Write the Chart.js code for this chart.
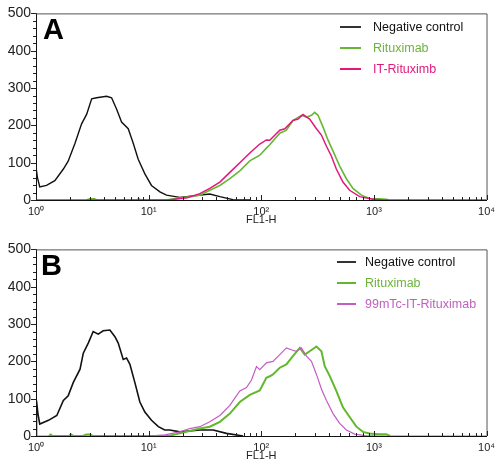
<!DOCTYPE html>
<html lang="en">
<head>
<meta charset="UTF-8">
<title>FL1-H histograms</title>
<script src="https://cdn.jsdelivr.net/npm/chart.js@4"></script>
<style>
  body { margin: 0; background: #fff; font-family: 'Liberation Sans', Arial, sans-serif; }
  .panel { position: relative; width: 500px; height: 236px; }
  .panel canvas { position: absolute; left: 0; top: 0; }
  .letter { position: absolute; top: 15px; font-size: 29px; font-weight: bold; line-height: 1; color: #000; }
  .legend { position: absolute; font-size: 12.5px; }
  .legend div { display: flex; align-items: center; height: 21px; white-space: nowrap; }
  .legend .swatch { display: inline-block; height: 0; border-top: 2px solid; }
</style>
</head>
<body>
<div class="panel">
  <canvas id="chartA" width="500" height="236"></canvas>
  <div class="letter" style="left:43px">A</div>
  <div class="legend" id="legendA" style="left:340px; top:16px"></div>
</div>
<div class="panel">
  <canvas id="chartB" width="500" height="236"></canvas>
  <div class="letter" style="left:41px">B</div>
  <div class="legend" id="legendB" style="left:337px; top:15px"></div>
</div>
<script>
// axis ticks
const xDecades = [1, 10, 100, 1000, 10000];
const xTickLabels = ['10⁰', '10¹', '10²', '10³', '10⁴'];
const yTicks = [0, 100, 200, 300, 400, 500];

// panel A
const negA_x = [1, 1, 1.03, 1.08, 1.24, 1.47, 1.75, 1.93, 2.22, 2.54, 2.82, 3.12, 3.45, 4.24, 4.69, 5.2, 5.75, 6.59, 7.3, 8.08, 9.26, 10.6, 12.6, 14.4, 18.9, 24.8, 34.9, 42.9, 56, 80];
const negA_y = [0, 88, 60, 35, 39, 52, 83, 104, 152, 204, 230, 271, 274, 278, 274, 243, 209, 191, 152, 109, 70, 39, 22, 13, 7, 11, 16, 9, 1, 0];
const ritA_x = [2.8, 3.0, 3.3, 3.5, 7.8, 8.2, 8.6, 14, 18.9, 28.5, 34.9, 42.9, 52.6, 64.5, 79.1, 97, 111, 119, 146, 167, 191, 227, 252, 279, 298, 319, 353, 391, 434, 497, 570, 652, 774, 916, 1100, 1290, 1350];
const ritA_y = [0, 3, 3, 0, 0, 3, 0, 0, 5, 13, 26, 39, 57, 78, 105, 120, 139, 148, 179, 187, 213, 227, 222, 227, 235, 227, 196, 161, 131, 91, 57, 31, 13, 4, 3, 2, 0];
const itA_x = [1, 15, 22, 28.5, 34.9, 42.9, 52.6, 64.5, 79.1, 97, 111, 119, 146, 162, 191, 212, 235, 269, 309, 342, 379, 419, 464, 531, 609, 748, 981, 1200, 10000];
const itA_y = [0, 0, 6, 17, 31, 48, 74, 100, 126, 150, 161, 160, 187, 191, 213, 217, 229, 217, 191, 174, 144, 118, 83, 48, 26, 9, 2, 0, 0];

// panel B
const negB_x = [1, 1.01, 1.04, 1.08, 1.29, 1.53, 1.75, 1.93, 2.14, 2.46, 2.63, 2.91, 3.22, 3.57, 3.95, 4.53, 5.02, 5.37, 5.95, 6.37, 6.82, 7.55, 8.36, 9.26, 10.6, 12.2, 13.9, 15.4, 18.9, 28.5, 37.4, 49.1, 69];
const negB_y = [0, 95, 60, 32, 42, 55, 95, 108, 143, 179, 222, 249, 280, 273, 282, 284, 266, 249, 205, 209, 192, 143, 91, 64, 42, 25, 16, 16, 11, 16, 16, 7, 0];
const ritB_x = [1.3, 1.35, 1.4, 1.95, 2.05, 2.15, 2.6, 2.8, 3.0, 3.2, 15, 18.9, 28.5, 34.9, 42.9, 52.6, 64.5, 79.1, 97, 111, 119, 127, 146, 167, 191, 220, 243, 269, 309, 342, 366, 405, 464, 531, 609, 699, 800, 916, 1100, 1290, 1390];
const ritB_y = [0, 4, 0, 0, 4, 0, 0, 4, 4, 0, 0, 7, 20, 25, 38, 60, 91, 110, 122, 156, 160, 165, 183, 192, 214, 236, 218, 227, 240, 227, 187, 161, 121, 77, 51, 25, 11, 7, 5, 5, 0];
const itB_x = [1, 10, 14, 18.9, 23.2, 28.5, 34.9, 42.9, 52.6, 64.5, 73.9, 81.9, 90.7, 97, 111, 127, 146, 167, 185, 205, 227, 252, 279, 309, 342, 379, 434, 497, 570, 675, 828, 1100, 10000];
const itB_y = [0, 0, 3, 11, 20, 25, 38, 55, 82, 121, 130, 150, 186, 178, 196, 200, 218, 236, 231, 227, 236, 214, 200, 165, 126, 95, 60, 34, 16, 5, 1, 0, 0];

const labelsA = ['Negative control', 'Rituximab', 'IT-Rituximb'];
const labelsB = ['Negative control', 'Rituximab', '99mTc-IT-Rituximab'];
const lineColorsA = ['#111111', '#66b832', '#e3177c'];
const lineColorsB = ['#111111', '#62b82c', '#c35cc4'];
const textColorsA = ['#111111', '#6cb33c', '#e0197d'];
const textColorsB = ['#111111', '#6cb33c', '#c060c0'];

function pts(xs, ys) {
  return xs.map((x, i) => ({ x: x, y: ys[i] }));
}

function isDecade(v) {
  const l = Math.log10(v);
  return Math.abs(l - Math.round(l)) < 1e-9;
}

// box round the plot and inward/outward tick marks
const frameTicks = {
  id: 'frameTicks',
  afterDraw(chart) {
    const { ctx, chartArea: a, scales: { x, y } } = chart;
    ctx.save();
    ctx.lineWidth = 1;
    ctx.strokeStyle = '#555';
    ctx.beginPath();
    ctx.moveTo(a.left, a.top + 0.5);
    ctx.lineTo(a.right + 0.5, a.top + 0.5);
    ctx.lineTo(a.right + 0.5, a.bottom);
    ctx.stroke();
    ctx.strokeStyle = '#222';
    ctx.beginPath();
    x.ticks.forEach(t => {
      const px = Math.round(x.getPixelForValue(t.value)) + 0.5;
      const len = isDecade(t.value) ? 5 : 3;
      ctx.moveTo(px, a.bottom);
      ctx.lineTo(px, a.bottom - len);
    });
    y.ticks.forEach(t => {
      const py = Math.round(y.getPixelForValue(t.value)) + 0.5;
      const len = yTicks.includes(t.value) ? 5 : 3;
      ctx.moveTo(a.left, py);
      ctx.lineTo(a.left - len, py);
    });
    ctx.stroke();
    ctx.restore();
  }
};

function makePanel(id, legendId, series, labels, lineColors, textColors, widths) {
  const datasets = series.map((s, i) => ({
    label: labels[i],
    data: pts(s[0], s[1]),
    showLine: true,
    borderColor: lineColors[i],
    borderWidth: widths[i],
    pointRadius: 0,
    order: 2 - i
  }));

  new Chart(document.getElementById(id), {
    type: 'scatter',
    data: { datasets: datasets },
    options: {
      responsive: false,
      animation: false,
      layout: { padding: { top: 8, right: 12, left: 0, bottom: 0 } },
      plugins: { legend: { display: false }, tooltip: { enabled: false } },
      scales: {
        x: {
          type: 'logarithmic',
          min: 1,
          max: 10000,
          afterBuildTicks: scale => {
            const t = [];
            xDecades.slice(0, -1).forEach(d => {
              for (let k = 1; k < 10; k++) t.push({ value: d * k });
            });
            t.push({ value: xDecades[xDecades.length - 1] });
            scale.ticks = t;
          },
          afterFit: scale => { scale.height = 36; },
          grid: { display: false, drawTicks: false },
          border: { display: true, color: '#111', width: 1 },
          ticks: {
            autoSkip: false,
            maxRotation: 0,
            padding: 5,
            color: '#222',
            font: { size: 11, family: "'Liberation Sans', Arial, sans-serif" },
            callback: v => {
              const i = xDecades.findIndex(d => Math.abs(d - v) < 1e-6 * d);
              return i >= 0 ? xTickLabels[i] : '';
            }
          },
          title: {
            display: true,
            text: 'FL1-H',
            color: '#222',
            font: { size: 11, family: "'Liberation Sans', Arial, sans-serif" },
            padding: { top: 0, bottom: 9 }
          }
        },
        y: {
          min: 0,
          max: 500,
          afterFit: scale => { scale.width = 36; },
          grid: { display: false, drawTicks: false },
          border: { display: true, color: '#111', width: 1 },
          ticks: {
            stepSize: 20,
            autoSkip: false,
            padding: 5,
            color: '#222',
            font: { size: 14, family: "'Liberation Sans', Arial, sans-serif" },
            callback: v => yTicks.includes(v) ? String(v) : ''
          }
        }
      }
    },
    plugins: [frameTicks]
  });

  const box = document.getElementById(legendId);
  const swW = legendId === 'legendA' ? 21 : 19;
  const gap = legendId === 'legendA' ? 12 : 9;
  labels.forEach((lab, i) => {
    const row = document.createElement('div');
    const sw = document.createElement('span');
    sw.className = 'swatch';
    sw.style.width = swW + 'px';
    sw.style.marginRight = gap + 'px';
    sw.style.borderTopColor = i === 0 ? '#333' : lineColors[i];
    const txt = document.createElement('span');
    txt.textContent = lab;
    txt.style.color = textColors[i];
    row.appendChild(sw);
    row.appendChild(txt);
    box.appendChild(row);
  });
}

makePanel('chartA', 'legendA',
  [[negA_x, negA_y], [ritA_x, ritA_y], [itA_x, itA_y]],
  labelsA, lineColorsA, textColorsA, [1.4, 1.6, 1.5]);

makePanel('chartB', 'legendB',
  [[negB_x, negB_y], [ritB_x, ritB_y], [itB_x, itB_y]],
  labelsB, lineColorsB, textColorsB, [1.6, 2, 1.2]);
</script>
</body>
</html>
